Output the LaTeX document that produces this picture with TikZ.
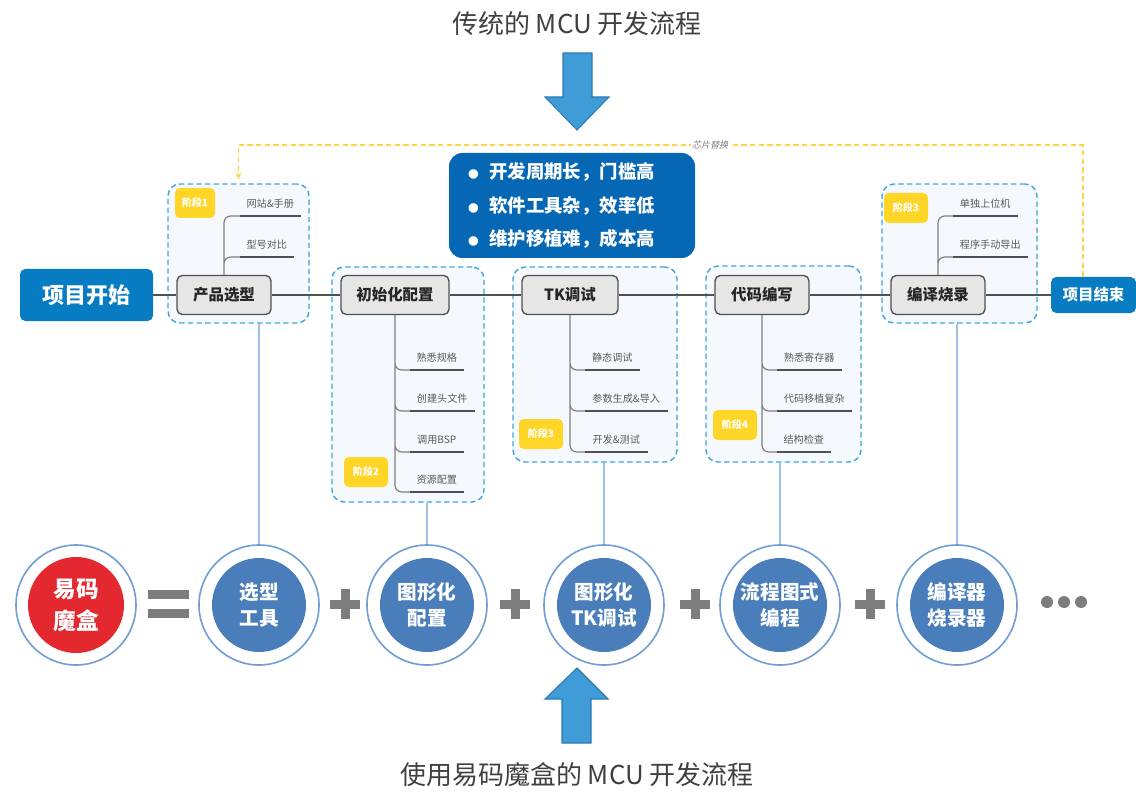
\documentclass[tikz,border=0pt]{standalone}
\usepackage{fontspec}
\setmainfont{Noto Sans CJK SC}
\newfontfamily\slantcjk{Noto Sans CJK SC}[FakeSlant=0.25]
\usetikzlibrary{arrows.meta}

\definecolor{projblue}{RGB}{8,124,194}
\definecolor{issueblue}{RGB}{6,104,180}
\definecolor{stagedash}{RGB}{65,165,222}
\definecolor{stagefill}{RGB}{245,249,253}
\definecolor{nodegray}{RGB}{230,230,230}
\definecolor{edgegray}{RGB}{80,80,80}
\definecolor{badgeyellow}{RGB}{255,214,40}
\definecolor{swapyellow}{RGB}{255,212,70}
\definecolor{toolblue}{RGB}{74,126,187}
\definecolor{ringblue}{RGB}{112,157,211}
\definecolor{boxred}{RGB}{228,40,48}
\definecolor{linkblue}{RGB}{160,192,230}
\definecolor{bigarrowfill}{RGB}{64,156,214}
\definecolor{bigarrowedge}{RGB}{46,122,180}
\definecolor{symgray}{RGB}{125,125,125}
\definecolor{titlegray}{RGB}{64,64,64}
\definecolor{leafgray}{RGB}{90,90,90}

\newcommand{\bul}{{\fontsize{8}{8}\selectfont ●}\hspace{8pt}}

\tikzset{
  projbox/.style={fill=projblue, rounded corners=4pt, text=white},
  stagebox/.style={draw=stagedash, fill=stagefill, dash pattern=on 4pt off 2.5pt, line width=1.1pt, rounded corners=9pt},
  stagenode/.style={draw=edgegray, fill=nodegray, line width=1pt, rounded corners=4pt, minimum height=29.25pt, font=\fontsize{11.6}{13}\selectfont\bfseries, text=black!85},
  badge/.style={fill=badgeyellow, rounded corners=3.5pt, minimum width=33pt, minimum height=22.5pt, text=white, font=\fontsize{7.5}{8}\selectfont\bfseries, inner sep=0pt},
  leaf/.style={anchor=south west, inner xsep=0pt, inner ysep=4.5pt, text height=6pt, text depth=1.5pt, text=leafgray, font=\fontsize{7.6}{9}\selectfont},
  underline/.style={draw=edgegray, line width=1.4pt},
  branch/.style={draw=gray, line width=0.9pt, rounded corners=5pt},
  mainline/.style={draw=edgegray, line width=1.1pt},
  ring/.style={circle, draw=ringblue, line width=1.2pt, fill=white, minimum size=90pt},
  tool/.style={circle, fill=toolblue, minimum size=70.5pt, inner sep=0pt, text=white, align=center, font=\fontsize{14.7}{20}\selectfont\bfseries},
  link/.style={draw=linkblue, line width=1.3pt},
  sym/.style={draw=symgray, line width=6.75pt},
  title/.style={text=titlegray, font=\fontsize{19.5}{22}\selectfont},
  bigarrow/.style={fill=bigarrowfill, draw=bigarrowedge, line width=0.8pt},
  swapline/.style={draw=swapyellow, dash pattern=on 4pt off 2.5pt, line width=1.1pt}
}

\begin{document}
\begin{tikzpicture}[x=0.75pt,y=-0.75pt]
\useasboundingbox (0,0) rectangle (1136,795);

\node[title] (oldtitle) at (577,24) {传统的 MCU 开发流程};
\node[title] (newtitle) at (577,775) {使用易码魔盒的 MCU 开发流程};
\filldraw[bigarrow] (563,53) -- (592,53) -- (592,97) -- (609,97) -- (577,130) -- (545,97) -- (563,97) -- cycle;
\filldraw[bigarrow] (562,743) -- (591,743) -- (591,699) -- (608,699) -- (577,668) -- (545,699) -- (562,699) -- cycle;

\node[stagebox, minimum width=105.75pt, minimum height=104.25pt] (box1) at (238.5,253.5) {};
\node[stagebox, minimum width=114pt, minimum height=176.25pt] (box2) at (408,384.5) {};
\node[stagebox, minimum width=123pt, minimum height=146.25pt] (box3) at (595,364.5) {};
\node[stagebox, minimum width=116.25pt, minimum height=147pt] (box4) at (783.5,364) {};
\node[stagebox, minimum width=116.25pt, minimum height=104.25pt] (box5) at (959.5,253.5) {};

\node[fill=issueblue, rounded corners=10pt, minimum width=184.5pt, minimum height=78.75pt, text width=156pt, text=white, align=left, font=\fontsize{13.8}{25}\selectfont\bfseries] (issues) at (572,205.5) {\bul 开发周期长，门槛高\\\bul 软件工具杂，效率低\\\bul 维护移植难，成本高};

\node[projbox, minimum width=99.75pt, minimum height=39pt, font=\fontsize{16.5}{18}\selectfont\bfseries] (start) at (86.5,295) {项目开始};
\node[projbox, minimum width=63.75pt, minimum height=27pt, font=\fontsize{11.6}{13}\selectfont\bfseries] (stop) at (1093.5,295) {项目结束};

\node[stagenode, minimum width=70.5pt] (s1) at (224,295) {产品选型};
\node[stagenode, minimum width=81pt] (s2) at (395,295) {初始化配置};
\node[stagenode, minimum width=72pt] (s3) at (570,295) {TK调试};
\node[stagenode, minimum width=70.5pt] (s4) at (762,295) {代码编写};
\node[stagenode, minimum width=70.5pt] (s5) at (938,295) {编译烧录};

\draw[mainline] (start.east) -- (s1.west) (s1.east) -- (s2.west) (s2.east) -- (s3.west)
  (s3.east) -- (s4.west) (s4.east) -- (s5.west) (s5.east) -- (stop.west);

\node[badge, minimum width=30pt] (tag1) at (195,203) {阶段1};
\node[badge] (tag2) at (366,472) {阶段2};
\node[badge] (tag3) at (541,434) {阶段3};
\node[badge] (tag4) at (735,425) {阶段4};
\node[badge] (tag5) at (906,208) {阶段3};

\node[leaf, minimum width=45pt] (l11) at (240,216) {网站\&手册};
\node[leaf, minimum width=39.75pt] (l12) at (240,257) {型号对比};
\node[leaf, minimum width=39.75pt] (l21) at (410,370) {熟悉规格};
\node[leaf, minimum width=48pt] (l22) at (410,411) {创建头文件};
\node[leaf, minimum width=39.75pt] (l23) at (410,452) {调用BSP};
\node[leaf, minimum width=39.75pt] (l24) at (410,492) {资源配置};
\node[leaf, minimum width=40.5pt] (l31) at (585,370) {静态调试};
\node[leaf, minimum width=61.5pt] (l32) at (585,411) {参数生成\&导入};
\node[leaf, minimum width=46.5pt] (l33) at (585,452) {开发\&测试};
\node[leaf, minimum width=48pt] (l41) at (777,370) {熟悉寄存器};
\node[leaf, minimum width=55.5pt] (l42) at (777,411) {代码移植复杂};
\node[leaf, minimum width=39.75pt] (l43) at (777,452) {结构检查};
\node[leaf, minimum width=48pt] (l51) at (953,216) {单独上位机};
\node[leaf, minimum width=55.5pt] (l52) at (953,257) {程序手动导出};

\draw[branch] (s1.north) |- (l11.south west) (s1.north) |- (l12.south west);
\draw[branch] (s2.south) |- (l21.south west) (s2.south) |- (l22.south west)
  (s2.south) |- (l23.south west) (s2.south) |- (l24.south west);
\draw[branch] (s3.south) |- (l31.south west) (s3.south) |- (l32.south west) (s3.south) |- (l33.south west);
\draw[branch] (s4.south) |- (l41.south west) (s4.south) |- (l42.south west) (s4.south) |- (l43.south west);
\draw[branch] (s5.north) |- (l51.south west) (s5.north) |- (l52.south west);

\draw[underline] (l11.south west) -- (l11.south east) (l12.south west) -- (l12.south east);
\draw[underline] (l21.south west) -- (l21.south east) (l22.south west) -- (l22.south east)
  (l23.south west) -- (l23.south east) (l24.south west) -- (l24.south east);
\draw[underline] (l31.south west) -- (l31.south east) (l32.south west) -- (l32.south east)
  (l33.south west) -- (l33.south east);
\draw[underline] (l41.south west) -- (l41.south east) (l42.south west) -- (l42.south east)
  (l43.south west) -- (l43.south east);
\draw[underline] (l51.south west) -- (l51.south east) (l52.south west) -- (l52.south east);

\coordinate (swaptop) at (1083,145);
\draw[swapline, -{Stealth[length=5pt,width=4.5pt]}, shorten >=3pt] (stop.north -| swaptop) -- (swaptop) -| (box1.north);
\node[fill=white, inner sep=1pt, text=gray, font=\slantcjk\fontsize{6.8}{7}\selectfont] (swaplbl) at (710,145) {芯片替换};

\node[ring] (ring1) at (76,605) {};
\node[tool, fill=boxred, minimum size=72pt, font=\fontsize{17}{24}\selectfont\bfseries] (magic) at (76,605) {易码\\魔盒};
\node[ring] (ring2) at (259,605) {};
\node[tool] (tool2) at (259,605) {选型\\工具};
\node[ring] (ring3) at (427,605) {};
\node[tool] (tool3) at (427,605) {图形化\\配置};
\node[ring] (ring4) at (604,605) {};
\node[tool] (tool4) at (604,605) {图形化\\TK调试};
\node[ring] (ring5) at (780,605) {};
\node[tool] (tool5) at (780,605) {流程图式\\编程};
\node[ring] (ring6) at (957,605) {};
\node[tool] (tool6) at (957,605) {编译器\\烧录器};

\draw[link] (ring2.north |- box1.south) -- (ring2.north);
\draw[link] (ring3.north |- box2.south) -- (ring3.north);
\draw[link] (ring4.north |- box3.south) -- (ring4.north);
\draw[link] (ring5.north |- box4.south) -- (ring5.north);
\draw[link] (ring6.north |- box5.south) -- (ring6.north);

\fill[symgray] (148,590) rectangle (189,599);
\fill[symgray] (148,609) rectangle (189,618);
\draw[sym] (330,604) -- (360,604) (345,589) -- (345,619);
\draw[sym] (500,604) -- (530,604) (515,589) -- (515,619);
\draw[sym] (680,604) -- (710,604) (695,589) -- (695,619);
\draw[sym] (855,604) -- (885,604) (870,589) -- (870,619);
\fill[symgray] (1047,602) circle (4.5pt) (1064,602) circle (4.5pt) (1081,602) circle (4.5pt);
\end{tikzpicture}
\end{document}
